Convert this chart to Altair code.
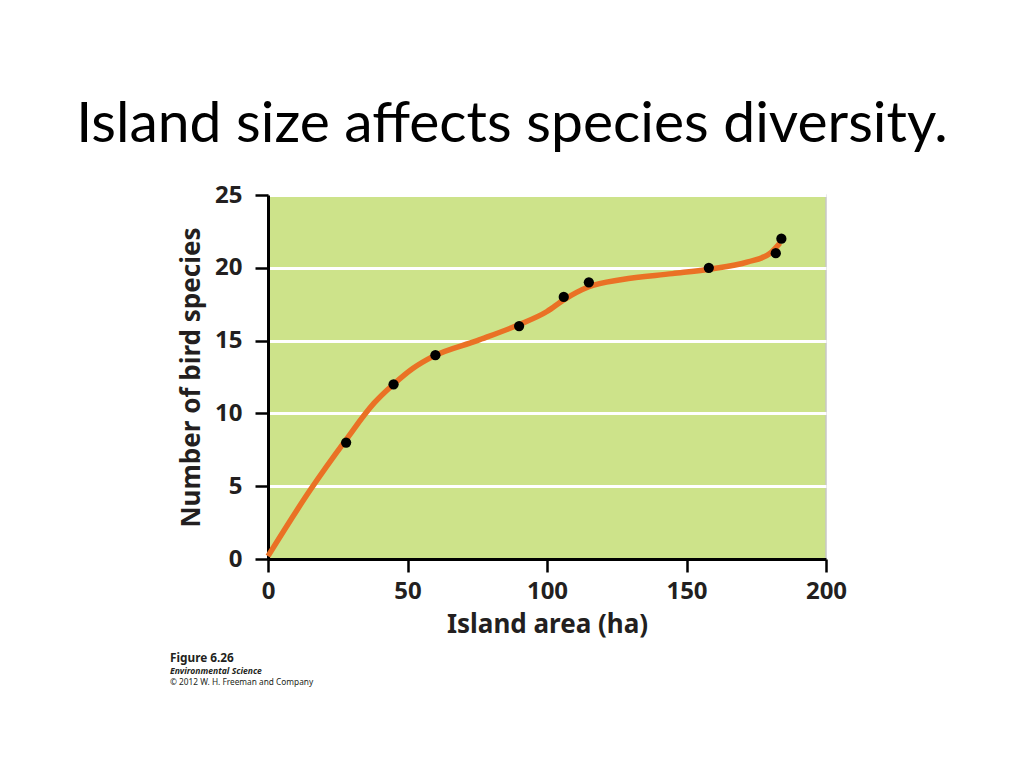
import altair as alt
import pandas as pd

# observed islands
area = [28, 45, 60, 90, 106, 115, 158, 182, 184]
species = [8, 12, 14, 16, 18, 19, 20, 21, 22]

# fitted curve
curve_x = [0, 15, 28, 38, 45, 52, 59, 75, 90, 100, 106, 115, 127, 145, 158, 172, 180, 183.5]
curve_y = [0.2, 4.7, 8.2, 10.7, 12.0, 13.1, 13.9, 15.0, 16.1, 17.0, 17.8, 18.7, 19.2, 19.6, 19.9, 20.4, 21.0, 21.7]

x_ticks = [0, 50, 100, 150, 200]
y_ticks = [0, 5, 10, 15, 20, 25]

caption = ["Figure 6.26", "Environmental Science", "\u00a9 2012 W. H. Freeman and Company"]

pts = pd.DataFrame({"area": area, "species": species})
crv = pd.DataFrame({"area": curve_x, "species": curve_y})

W, H = 558, 364
FONT = "Noto Sans"

xs = alt.Scale(domain=[0, 200], nice=False)
ys = alt.Scale(domain=[0, 25], nice=False)

x_axis = alt.Axis(values=x_ticks, title="Island area (ha)", grid=False,
                  tickSize=13, tickWidth=2.5, tickColor="black",
                  domainColor="black", domainWidth=3,
                  labelFont=FONT, labelFontWeight="bold", labelFontSize=24, labelColor="#231f20",
                  labelPadding=7, labelFlush=False,
                  titleFont=FONT, titleFontWeight="bold", titleFontSize=26, titleColor="#231f20",
                  titlePadding=8)
y_axis = alt.Axis(values=y_ticks, title="Number of bird species", grid=True,
                  gridColor="white", gridWidth=3,
                  tickSize=13, tickWidth=2.5, tickColor="black",
                  domainColor="black", domainWidth=3,
                  labelFont=FONT, labelFontWeight="bold", labelFontSize=24, labelColor="#231f20",
                  labelPadding=13, labelFlush=False,
                  titleFont=FONT, titleFontWeight="bold", titleFontSize=26, titleColor="#231f20",
                  titlePadding=10)

line = alt.Chart(crv).mark_line(color="#ea7125", strokeWidth=5.5, interpolate="monotone").encode(
    x=alt.X("area:Q", scale=xs, axis=x_axis),
    y=alt.Y("species:Q", scale=ys, axis=y_axis),
)
dots = alt.Chart(pts).mark_circle(color="black", size=105, opacity=1).encode(
    x=alt.X("area:Q", scale=xs),
    y=alt.Y("species:Q", scale=ys),
)

cap_layers = []
styles = [("bold", "normal", 11.8, 99), ("bold", "italic", 8.6, 112), ("normal", "normal", 8.3, 124)]
for txt, (fw, fs, sz, dy) in zip(caption, styles):
    cap_layers.append(
        alt.Chart(pd.DataFrame({"t": [txt]})).mark_text(
            align="left", baseline="middle", font=FONT, fontSize=sz, fontWeight=fw,
            fontStyle=fs, color="#231f20"
        ).encode(x=alt.value(-98), y=alt.value(H + dy), text="t:N")
    )

chart = alt.layer(line, dots, *cap_layers).properties(
    width=W, height=H,
    title=alt.TitleParams("Island size affects species diversity.", font="Lato", fontSize=57,
                          fontWeight="normal", color="black", anchor="middle", dx=-35, offset=29),
    autosize=alt.AutoSizeParams(type="none"),
    padding={"left": 260, "top": 187, "right": 190, "bottom": 200},
    background="white",
).configure_view(fill="#cde38a", stroke="#c8c8c8", strokeWidth=1.5)

chart.save("out.html", embed_options={"renderer": "svg", "actions": False})
